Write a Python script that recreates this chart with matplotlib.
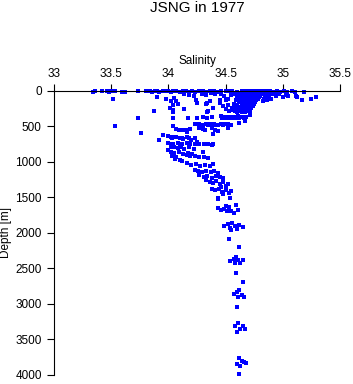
import numpy as np
import matplotlib
matplotlib.use("Agg")
import matplotlib.pyplot as plt

plt.rcParams['font.family'] = ['Liberation Sans', 'DejaVu Sans']

# surface samples (0-25 m)
surf_sal = [33.34, 33.36, 33.42, 33.46, 33.48, 33.50, 33.53, 33.59, 33.62, 33.73,
            33.80, 33.84, 33.86, 33.88, 33.90, 33.92, 33.95, 33.97, 34.00, 34.02,
            34.04, 34.07, 34.10, 34.13, 34.15, 34.18, 34.21, 34.23, 34.27, 34.30,
            34.33, 34.36, 34.40, 34.43, 34.46, 34.50, 34.53, 34.56, 34.60, 34.64,
            34.86, 34.89, 34.92, 34.95, 34.98, 35.01, 35.04, 35.08, 35.11]
surf_dep = [20, 5, 10, 0, 15, 5, 10, 25, 20, 10,
            0, 5, 15, 0, 10, 20, 5, 0, 10, 15,
            5, 0, 20, 10, 5, 25, 0, 15, 10, 5,
            20, 0, 10, 15, 5, 0, 10, 5, 15, 0,
            10, 5, 20, 0, 15, 5, 25, 10, 20]

# scattered near-surface samples (30-200 m)
near_sal = [33.51, 33.90, 33.98, 34.02, 34.05, 34.07, 34.04, 34.08, 34.24, 34.25,
            34.34, 34.29, 34.33, 34.37, 34.41, 34.36, 34.33, 34.46, 34.49, 34.52,
            34.55, 34.50, 34.85, 34.88, 34.91, 34.94, 34.97, 35.00, 35.03, 35.05,
            35.12, 35.13, 35.19, 35.17, 35.25, 35.29, 34.14, 34.18, 34.22, 34.45,
            34.87, 34.90, 34.84, 34.93, 34.86, 34.89, 34.85, 34.88, 34.83, 34.86]
near_dep = [121, 84, 110, 140, 103, 150, 201, 192, 131, 178,
            178, 40, 55, 30, 50, 145, 187, 40, 80, 110,
            60, 130, 30, 60, 45, 80, 40, 95, 55, 75,
            70, 84, 23, 131, 117, 93, 40, 60, 70, 131,
            100, 115, 120, 35, 15, 25, 70, 90, 140, 130]

# dense core of the upper water column
core_sal = [34.68, 34.70, 34.72, 34.74, 34.76, 34.78, 34.80, 34.82, 34.84,
            34.67, 34.69, 34.71, 34.73, 34.75, 34.77, 34.79, 34.81, 34.83,
            34.66, 34.68, 34.70, 34.72, 34.74, 34.76, 34.78, 34.80, 34.82,
            34.62, 34.65, 34.69, 34.71, 34.73, 34.75, 34.77, 34.79, 34.81,
            34.60, 34.64, 34.68, 34.70, 34.72, 34.74, 34.76, 34.78, 34.80,
            34.63, 34.67, 34.70, 34.72, 34.74, 34.76, 34.79,
            34.61, 34.66, 34.69, 34.71, 34.73, 34.75, 34.78,
            34.59, 34.65, 34.68, 34.70, 34.72, 34.74, 34.77,
            34.62, 34.66, 34.69, 34.71, 34.73, 34.76,
            34.57, 34.64, 34.67, 34.70, 34.72, 34.75,
            34.60, 34.65, 34.68, 34.71, 34.74,
            34.56, 34.59, 34.63, 34.66, 34.69, 34.72,
            34.53, 34.58, 34.62, 34.65, 34.68, 34.71,
            34.60, 34.64, 34.67,
            34.58, 34.61, 34.64, 34.67, 34.70, 34.73,
            34.60, 34.63, 34.66, 34.69, 34.72,
            34.62, 34.65, 34.68, 34.71]
core_dep = [0, 0, 0, 0, 0, 0, 0, 0, 0,
            15, 15, 15, 15, 15, 15, 15, 15, 15,
            30, 30, 30, 30, 30, 30, 30, 30, 30,
            50, 50, 50, 50, 50, 50, 50, 50, 50,
            70, 70, 70, 70, 70, 70, 70, 70, 70,
            90, 90, 90, 90, 90, 90, 90,
            110, 110, 110, 110, 110, 110, 110,
            130, 130, 130, 130, 130, 130, 130,
            160, 160, 160, 160, 160, 160,
            190, 190, 190, 190, 190, 190,
            220, 220, 220, 220, 220,
            250, 250, 250, 250, 250, 250,
            280, 280, 280, 280, 280, 280,
            300, 300, 300,
            40, 60, 100, 120, 145, 175,
            205, 235, 265, 200, 150,
            60, 80, 100, 120]

# 200-800 m
upper_sal = [33.87, 34.01, 34.14, 34.04, 34.04, 34.34, 34.35, 34.39, 34.45, 34.48,
             34.50, 34.52, 34.56,
             33.73, 34.04, 34.17, 34.25, 34.34, 34.30, 34.38, 34.46, 34.49, 34.52,
             34.55, 34.58, 34.61, 34.64, 34.68, 34.71,
             34.47, 34.50, 34.53, 34.56, 34.59, 34.62, 34.66,
             34.67, 34.62,
             34.23, 34.27, 34.30, 34.33, 34.36, 34.40, 34.43, 34.46, 34.49, 34.52, 34.55,
             34.28, 34.35, 34.42, 34.48,
             33.53, 34.04, 34.52,
             34.27, 34.30, 34.32, 34.38, 34.41, 34.43,
             34.07, 34.10, 34.13, 34.16, 34.19, 34.09, 34.15,
             33.76, 34.39,
             33.95, 34.00, 34.03, 34.07, 34.10, 34.13, 34.16, 34.20, 34.23,
             34.02, 34.06, 34.12, 34.18,
             33.92, 34.00, 34.04, 34.08, 34.12, 34.16, 34.19,
             34.27, 34.31, 34.35, 34.39, 34.25, 34.38, 34.02, 34.10, 34.23]
upper_dep = [286, 248, 258, 270, 296, 296, 286, 239, 180, 220,
             260, 200, 270,
             380, 380, 389, 380, 389, 375, 366, 360, 370, 375,
             365, 370, 360, 375, 365, 342,
             380, 385, 378, 382, 385, 380, 380,
             427, 459,
             473, 470, 480, 465, 475, 470, 480, 465, 475, 470, 480,
             485, 488, 485, 488,
             493, 493, 521,
             520, 545, 560, 530, 550, 570,
             540, 560, 550, 575, 545, 555, 560,
             591, 614,
             624, 640, 660, 650, 660, 680, 650, 690, 670,
             650, 655, 665, 660,
             694, 730, 745, 735, 755, 740, 750,
             755, 755, 755, 755, 718, 764, 750, 745, 750]

# 800-1550 m
mid_sal = [34.00, 34.02, 34.05, 34.08, 34.11, 34.14, 34.18, 34.22,
           34.02, 34.05, 34.09, 34.13, 34.17, 34.21, 34.30,
           34.03, 34.07, 34.16, 34.19, 34.23, 34.27, 34.31, 34.35,
           34.06, 34.10, 34.04, 34.12,
           34.16, 34.20, 34.24, 34.28, 34.32, 34.36, 34.39,
           34.23, 34.26, 34.29, 34.33, 34.37, 34.40, 34.43,
           34.27, 34.31, 34.34, 34.38, 34.42, 34.45, 34.48,
           34.33, 34.36, 34.39, 34.42, 34.45, 34.48, 34.50, 34.52, 34.46,
           34.38, 34.41, 34.44, 34.47, 34.50, 34.53, 34.55, 34.48,
           34.43, 34.43, 34.54]
mid_dep = [835, 800, 790, 810, 795, 820, 800, 815,
           860, 880, 870, 890, 875, 895, 859,
           920, 940, 905, 925, 915, 940, 930, 950,
           960, 975, 900, 985,
           1022, 1040, 1030, 1055, 1045, 1060, 1035,
           1117, 1130, 1140, 1125, 1150, 1135, 1160,
           1190, 1210, 1200, 1225, 1195, 1215, 1230,
           1260, 1280, 1300, 1270, 1320, 1290, 1340, 1310, 1350,
           1380, 1400, 1390, 1420, 1405, 1440, 1415, 1450,
           1515, 1529, 1515]

# below 1550 m
deep_sal = [34.43, 34.46, 34.49, 34.51, 34.53, 34.55, 34.57, 34.59, 34.61, 34.50,
            34.49, 34.52, 34.54, 34.56, 34.58, 34.60, 34.62, 34.65, 34.55,
            34.53, 34.62,
            34.54, 34.57, 34.59, 34.61, 34.63, 34.65, 34.58,
            34.59, 34.65,
            34.57, 34.60, 34.62, 34.64, 34.66, 34.61,
            34.60,
            34.58, 34.61, 34.63, 34.65, 34.67, 34.60,
            34.60, 34.62, 34.64, 34.66, 34.68, 34.63,
            34.62]
deep_dep = [1650, 1680, 1660, 1700, 1640, 1690, 1720, 1609, 1680, 1620,
            1900, 1880, 1940, 1860, 1910, 1950, 1890, 1924, 1960,
            2092, 2205,
            2400, 2370, 2340, 2390, 2420, 2380, 2430,
            2570, 2690,
            2870, 2840, 2810, 2880, 2900, 2900,
            3050,
            3320, 3270, 3350, 3310, 3360, 3400,
            3850, 3760, 3800, 3820, 3840, 3880,
            3990]

salinity = np.array(surf_sal + near_sal + core_sal + upper_sal + mid_sal + deep_sal)
depth = np.array(surf_dep + near_dep + core_dep + upper_dep + mid_dep + deep_dep)

W, H = 353, 384
fig = plt.figure(figsize=(W / 100, H / 100), dpi=100)
ax = fig.add_axes([54.3 / W, 1 - 374.7 / H, (339.7 - 54.3) / W, (374.7 - 90.7) / H])

ax.plot(salinity, depth, linestyle='none', marker='s', markersize=2.2,
        color='#0000ff', markeredgewidth=0, clip_on=False)

ax.set_xlim(33, 35.5)
ax.set_ylim(4000, 0)
ax.set_xticks([33, 33.5, 34, 34.5, 35, 35.5])
ax.set_xticklabels(['33', '33.5', '34', '34.5', '35', '35.5'])
ax.set_yticks(np.arange(0, 4001, 500))
ax.xaxis.tick_top()
ax.spines['right'].set_visible(False)
ax.spines['bottom'].set_visible(False)
ax.tick_params(axis='both', direction='out', length=5, width=0.8, labelsize=8.5, pad=3)
ax.tick_params(axis='y', pad=4)

fig.text(197 / W, 1 - 8 / H, 'JSNG in 1977', ha='center', va='center', fontsize=11)
fig.text(197 / W, 1 - 61 / H, 'Salinity', ha='center', va='center', fontsize=8.5)
fig.text(6 / W, 1 - 232.7 / H, 'Depth [m]', ha='center', va='center', rotation=90, fontsize=8.5)

fig.savefig('out.png', dpi=100)
